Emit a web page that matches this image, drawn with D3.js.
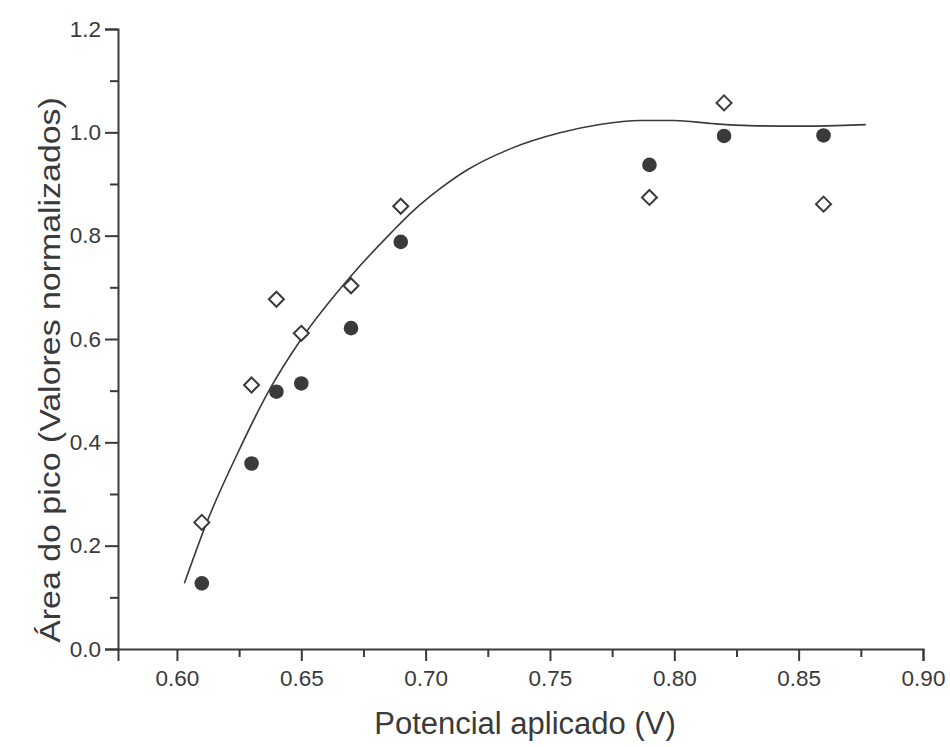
<!DOCTYPE html>
<html>
<head>
<meta charset="utf-8">
<script src="https://cdn.jsdelivr.net/npm/d3@7"></script>
<style>
  html, body { margin: 0; padding: 0; background: #ffffff; }
  svg { display: block; }
  text { font-family: "Liberation Sans", Arial, sans-serif; fill: #3a3a3a; }
</style>
</head>
<body>
<svg id="chart" width="950" height="747"></svg>
<script>
// Applied potential (V) for each measurement
const potentials = [0.61, 0.63, 0.64, 0.65, 0.67, 0.69, 0.79, 0.82, 0.86];
// Normalised peak area, series 1 (filled circles)
const areaCircles = [0.127, 0.359, 0.498, 0.514, 0.621, 0.788, 0.937, 0.993, 0.994];
// Normalised peak area, series 2 (open diamonds)
const areaDiamonds = [0.245, 0.511, 0.677, 0.611, 0.703, 0.857, 0.874, 1.057, 0.861];
// Fitted trend curve
const fitX = [0.603, 0.612, 0.625, 0.637, 0.650, 0.670, 0.686, 0.695, 0.705, 0.717, 0.734, 0.754, 0.770, 0.786, 0.800, 0.815, 0.830, 0.850, 0.865, 0.877];
const fitY = [0.127, 0.245, 0.385, 0.500, 0.600, 0.722, 0.805, 0.848, 0.888, 0.928, 0.968, 0.999, 1.015, 1.023, 1.023, 1.017, 1.013, 1.012, 1.013, 1.015];
// Axis ticks
const xMajor = [0.60, 0.65, 0.70, 0.75, 0.80, 0.85, 0.90];
const xMinor = [0.625, 0.675, 0.725, 0.775, 0.825, 0.875];
const yMajor = [0.0, 0.2, 0.4, 0.6, 0.8, 1.0, 1.2];
const yMinor = [0.1, 0.3, 0.5, 0.7, 0.9, 1.1];

const ink = "#3a3a3a";
const svg = d3.select("#chart");

const x = d3.scaleLinear().domain([0.5763, 0.90]).range([118, 923]);
const y = d3.scaleLinear().domain([0, 1.2]).range([649, 29]);

// Y axis
const yAxisMajor = d3.axisLeft(y).tickValues(yMajor).tickFormat(d3.format(".1f")).tickSize(13).tickPadding(4);
const yAxisMinor = d3.axisLeft(y).tickValues(yMinor).tickFormat("").tickSize(8);
const gy = svg.append("g").attr("transform", `translate(${x.range()[0]},0)`);
gy.call(yAxisMajor);
gy.append("g").call(yAxisMinor);

// X axis
const xAxisMajor = d3.axisBottom(x).tickValues(xMajor).tickFormat(d3.format(".2f")).tickSize(12).tickPadding(9);
const xAxisMinor = d3.axisBottom(x).tickValues(xMinor).tickFormat("").tickSize(8);
const gx = svg.append("g").attr("transform", `translate(0,${y.range()[0]})`);
gx.call(xAxisMajor);
gx.append("g").call(xAxisMinor);

svg.selectAll(".domain").attr("stroke", ink).attr("stroke-width", 2);
svg.selectAll(".tick line").attr("stroke", ink).attr("stroke-width", 2);
gy.selectAll(".tick text").attr("font-size", 22.5).attr("fill", ink);
gx.selectAll(".tick text").attr("font-size", 22.5).attr("fill", ink);
// remove outer-tick stubs on the minor axes
gy.selectAll("g g .domain").remove();
gx.selectAll("g g .domain").remove();

// Fitted curve
const line = d3.line()
  .x((d, i) => x(fitX[i]))
  .y(d => y(d))
  .curve(d3.curveMonotoneX);
svg.append("path")
  .datum(fitY)
  .attr("d", line)
  .attr("fill", "none")
  .attr("stroke", ink)
  .attr("stroke-width", 1.6);

// Open diamonds
const dSize = 7.5;
svg.append("g").selectAll("path")
  .data(potentials)
  .join("path")
  .attr("d", (d, i) => {
    const cx = x(d), cy = y(areaDiamonds[i]);
    return `M${cx},${cy - dSize}L${cx + dSize},${cy}L${cx},${cy + dSize}L${cx - dSize},${cy}Z`;
  })
  .attr("fill", "#ffffff")
  .attr("stroke", ink)
  .attr("stroke-width", 2);

// Filled circles
svg.append("g").selectAll("circle")
  .data(potentials)
  .join("circle")
  .attr("cx", d => x(d))
  .attr("cy", (d, i) => y(areaCircles[i]))
  .attr("r", 7.3)
  .attr("fill", ink);

// Axis titles
svg.append("text")
  .attr("x", 525)
  .attr("y", 734)
  .attr("text-anchor", "middle")
  .attr("font-size", 31)
  .text("Potencial aplicado (V)");

svg.append("text")
  .attr("transform", "translate(60,370) rotate(-90) scale(1.13,1)")
  .attr("text-anchor", "middle")
  .attr("font-size", 30)
  .text("Área do pico (Valores normalizados)");
</script>
</body>
</html>
